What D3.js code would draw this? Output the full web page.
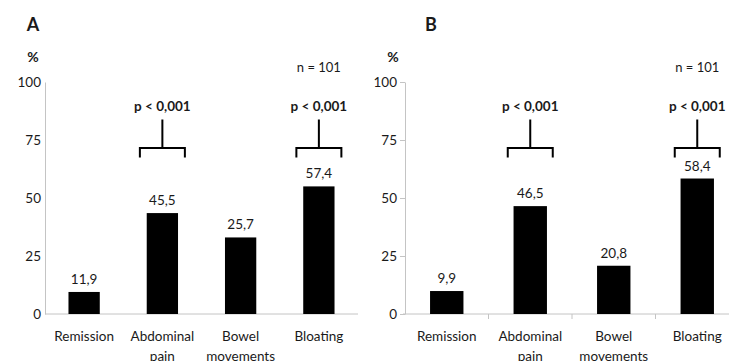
<!DOCTYPE html>
<html>
<head>
<meta charset="utf-8">
<script src="https://cdn.jsdelivr.net/npm/d3@7"></script>
<style>
  body { margin: 0; background: #fff; }
  text { font-family: Lato, "Open Sans", sans-serif; fill: #1a1a1a; }
</style>
</head>
<body>
<svg id="chart" width="729" height="361"></svg>
<script>
// categories shared by both panels
const categories = ["Remission", "Abdominal pain", "Bowel movements", "Bloating"];

// panel A: bar heights as drawn, and the printed labels
const barsA = [9.5, 43.5, 33, 55];
const labelsA = ["11,9", "45,5", "25,7", "57,4"];

// panel B
const barsB = [9.9, 46.5, 20.8, 58.4];
const labelsB = ["9,9", "46,5", "20,8", "58,4"];

const yTicks = [0, 25, 50, 75, 100];
const sigCategories = ["Abdominal pain", "Bloating"];
const sigText = "p < 0,001";
const nText = "n = 101";

const svg = d3.select("#chart");

function drawPanel(opts) {
  const g = svg.append("g");

  const y = d3.scaleLinear().domain([0, 100]).range([314, 82]);
  const x = d3
    .scaleBand()
    .domain(categories)
    .range([opts.x0, opts.x1])
    .paddingInner(0.6)
    .paddingOuter(0.3);

  // y axis
  const yAxis = g
    .append("g")
    .attr("transform", "translate(" + opts.x0 + ",0)")
    .call(
      d3.axisLeft(y)
        .tickValues(yTicks)
        .tickSize(opts.ticks ? 5 : 0)
        .tickSizeOuter(0)
        .tickPadding(opts.ticks ? 3 : 4)
    );
  yAxis.select(".domain").attr("stroke", "#c4c4c4");
  yAxis.selectAll(".tick line").attr("stroke", "#c4c4c4");
  yAxis.selectAll(".tick text")
    .style("font-size", "13.5px")
    .style("font-family", "Lato, 'Open Sans', sans-serif")
    .attr("fill", "#1a1a1a");

  // baseline
  g.append("line")
    .attr("x1", opts.x0 - (opts.ticks ? 2 : 0))
    .attr("x2", opts.x1)
    .attr("y1", y(0))
    .attr("y2", y(0))
    .attr("stroke", "#c4c4c4");

  if (opts.ticks) {
    // category boundary ticks
    g.selectAll(".xtick")
      .data(categories.slice(0, -1))
      .enter()
      .append("line")
      .attr("x1", d => x(d) + x.bandwidth() + (x.step() - x.bandwidth()) / 2)
      .attr("x2", d => x(d) + x.bandwidth() + (x.step() - x.bandwidth()) / 2)
      .attr("y1", y(0))
      .attr("y2", y(0) + 5)
      .attr("stroke", "#c4c4c4");
  }

  // bars
  g.selectAll(".bar")
    .data(opts.bars)
    .enter()
    .append("rect")
    .attr("x", (d, i) => x(categories[i]))
    .attr("y", d => y(d))
    .attr("width", x.bandwidth())
    .attr("height", d => y(0) - y(d))
    .attr("fill", "#000");

  // value labels
  g.selectAll(".val")
    .data(opts.labels)
    .enter()
    .append("text")
    .attr("x", (d, i) => x(categories[i]) + x.bandwidth() / 2)
    .attr("y", (d, i) => y(opts.bars[i]) - 8)
    .attr("text-anchor", "middle")
    .style("font-size", "13.5px")
    .text(d => d);

  // category labels, wrapped on spaces
  const cat = g.selectAll(".cat")
    .data(categories)
    .enter()
    .append("text")
    .attr("text-anchor", "middle")
    .style("font-size", "13.5px");
  cat.each(function(d) {
    const words = d.split(" ");
    const t = d3.select(this);
    words.forEach((w, k) => {
      t.append("tspan")
        .attr("x", x(d) + x.bandwidth() / 2)
        .attr("y", 341 + k * 20)
        .text(w);
    });
  });

  // significance brackets
  sigCategories.forEach(c => {
    const cx = x(c) + x.bandwidth() / 2;
    const hb = 22.5;
    g.append("path")
      .attr("d",
        "M" + (cx - hb) + "," + y(67.5) +
        "V" + y(71.5) + "H" + (cx + hb) + "V" + y(67.5) +
        "M" + cx + "," + y(71.5) + "V" + y(83.8))
      .attr("fill", "none")
      .attr("stroke", "#000")
      .attr("stroke-width", 2);
    g.append("text")
      .attr("x", cx)
      .attr("y", y(87.5))
      .attr("text-anchor", "middle")
      .style("font-size", "13.5px")
      .style("font-weight", "bold")
      .text(sigText);
  });

  // n label
  g.append("text")
    .attr("x", x(categories[3]) + x.bandwidth() / 2)
    .attr("y", 72)
    .attr("text-anchor", "middle")
    .style("font-size", "13px")
    .text(nText);

  // % label
  g.append("text")
    .attr("x", opts.x0 - 12)
    .attr("y", 62)
    .attr("text-anchor", "middle")
    .style("font-size", "14px")
    .style("font-weight", "bold")
    .text("%");

  // panel letter
  g.append("text")
    .attr("x", opts.letterX)
    .attr("y", 31)
    .attr("text-anchor", "middle")
    .style("font-size", "18px")
    .style("font-weight", "bold")
    .text(opts.letter);
}

drawPanel({ x0: 45, x1: 358, bars: barsA, labels: labelsA, ticks: false, letter: "A", letterX: 33 });
drawPanel({ x0: 405, x1: 739, bars: barsB, labels: labelsB, ticks: true, letter: "B", letterX: 431 });
</script>
</body>
</html>
